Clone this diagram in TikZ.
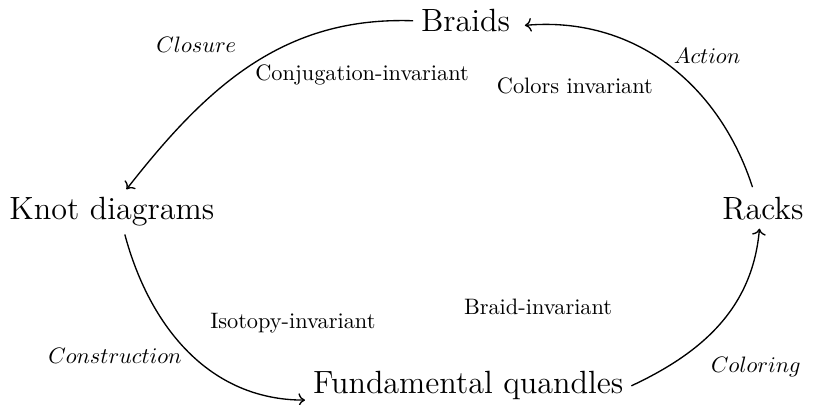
\documentclass[tikz,border=0pt]{standalone}
\usepackage{amsmath}
\usepackage{amssymb}
\usepackage{tikz}
\usetikzlibrary{
    arrows.meta
}

\begin{document}
\begin{tikzpicture}[semithick,
    obj/.style={font=\Large,anchor=base},
    lab/.style={font=\normalsize}]

\useasboundingbox (0,0) rectangle (12.83,6.37);

\node[obj] (braids) at (7.33,5.87) {Braids};
\node[obj] (knot) at (1.76,2.91) {Knot diagrams};
\node[obj] (racks) at (12.01,2.91) {Racks};
\node[obj] (quandles) at (7.37,0.17) {Fundamental quandles};

\node[lab] (closure) at (3.09,5.67) {$Closure$};
\node[lab] (conj) at (5.70,5.19) {Conjugation-invariant};
\node[lab] (colinv) at (9.05,5.02) {Colors invariant};
\node[lab] (action) at (11.13,5.49) {$Action$};
\node[lab] (isot) at (4.61,1.29) {Isotopy-invariant};
\node[lab] (constr) at (1.81,0.77) {$Construction$};
\node[lab] (braidinv) at (8.47,1.54) {Braid-invariant};
\node[lab] (coloring) at (11.90,0.60) {$Coloring$};

\draw[->] (braids.west) to[out=178,in=52] (knot.57);
\draw[->] (knot.-60) to[out=-75,in=180] (quandles.185);
\draw[->] (quandles.east) to[out=25,in=-95] (racks.-100);
\draw[->] ([yshift=1pt]racks.118) to[out=108,in=5] ([xshift=3pt]braids.-5);

\end{tikzpicture}
\end{document}
